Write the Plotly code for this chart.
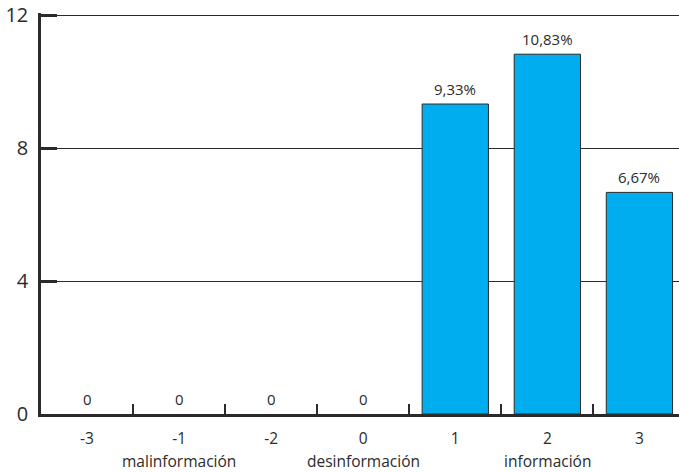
import plotly.graph_objects as go

# Category labels along the x axis and the value of each bar
categories = ["-3", "-1", "-2", "0", "1", "2", "3"]
values = [0, 0, 0, 0, 9.33, 10.83, 6.67]

# Group captions shown under the axis, each centred under one category
group_labels = ["malinformación", "desinformación", "información"]
group_anchor = ["-1", "0", "2"]

y_ticks = [0, 4, 8, 12]

BAR_COLOR = "#00AEEF"
INK = "#2b2b2b"
FONT = "Open Sans"


def value_text(v):
    if v == 0:
        return "0"
    return f"{v:.2f}".replace(".", ",") + "%"


# Category positions as indices, so labels such as "0" or "-1" are not read as numbers
pos = list(range(len(categories)))

fig = go.Figure()
fig.add_trace(go.Bar(
    x=pos,
    y=values,
    width=0.72,
    marker=dict(
        color=BAR_COLOR,
        line=dict(color=INK, width=[1 if v > 0 else 0 for v in values]),
    ),
    hoverinfo="skip",
))

# Value labels above each bar
for i, v in zip(pos, values):
    fig.add_annotation(
        x=i, y=v, xref="x", yref="y",
        text=value_text(v), showarrow=False,
        yanchor="middle", yshift=15,
        font=dict(family=FONT, size=15, color=INK),
    )

# Group captions below the category labels
for g, c in zip(group_labels, group_anchor):
    fig.add_annotation(
        x=categories.index(c), y=0, xref="x", yref="paper",
        text=g, showarrow=False, borderpad=0,
        yanchor="middle", yshift=-47,
        font=dict(family=FONT, size=15.5, color=INK),
    )

fig.update_layout(
    width=679, height=472,
    margin=dict(l=41, r=0, t=13, b=58),
    paper_bgcolor="white",
    plot_bgcolor="white",
    showlegend=False,
    font=dict(family=FONT, color=INK),
)

# Ticks sit on the boundaries between categories
boundaries = [i + 0.5 for i in pos[:-1]]

fig.update_xaxes(
    type="linear",
    range=[-0.5, 6.43],
    tickvals=pos,
    ticktext=categories,
    showgrid=False,
    showline=True, linecolor=INK, linewidth=2.5,
    ticks="",
    tickfont=dict(family=FONT, size=15.5, color=INK),
    ticklabelstandoff=9,
    zeroline=False,
    fixedrange=True,
    minor=dict(tickvals=boundaries, ticks="inside", ticklen=10,
               tickwidth=2, tickcolor=INK, showgrid=False),
)

fig.update_yaxes(
    range=[0, 12.07],
    tickvals=y_ticks,
    ticktext=[str(t) for t in y_ticks],
    showgrid=True, gridcolor=INK, gridwidth=1,
    showline=True, linecolor=INK, linewidth=2.5,
    ticks="inside", ticklen=16, tickwidth=2.5, tickcolor=INK,
    tickfont=dict(family=FONT, size=20, color=INK),
    ticklabelstandoff=6,
    zeroline=False,
    fixedrange=True,
)

fig.write_html("out.html")
